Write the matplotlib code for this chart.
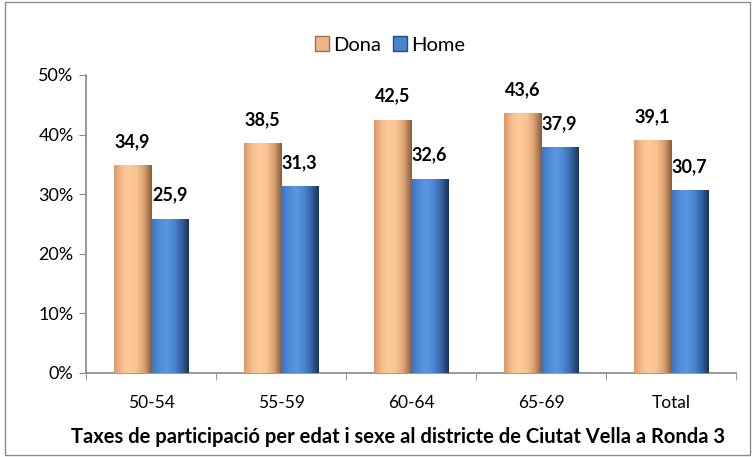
import numpy as np
import matplotlib
matplotlib.use('Agg')
import matplotlib.pyplot as plt
from matplotlib.colors import LinearSegmentedColormap
from matplotlib.patches import Rectangle, Patch
from matplotlib.ticker import FuncFormatter, FixedLocator

categories = ['50-54', '55-59', '60-64', '65-69', 'Total']
dona = [34.9, 38.5, 42.5, 43.6, 39.1]
home = [25.9, 31.3, 32.6, 37.9, 30.7]
series_names = ['Dona', 'Home']
title = 'Taxes de participació per edat i sexe al districte de Ciutat Vella a Ronda 3'

plt.rcParams['font.family'] = ['Lato', 'DejaVu Sans']

dona_cmap = LinearSegmentedColormap.from_list(
    'dona', ['#d9996a', '#f6bd8c', '#fccb9c', '#f8c190', '#d9a070', '#8a5c3a'])
home_cmap = LinearSegmentedColormap.from_list(
    'home', ['#3a72bd', '#4f8ad6', '#5b97e0', '#4c86d2', '#3566a8', '#1c355c'])

fig = plt.figure(figsize=(7.55, 4.57), dpi=100)
ax = fig.add_axes([0.114, 0.184, 0.861, 0.652])

x = np.arange(len(categories))
w = 0.285


def shaded_bars(xpos, vals, cmap, base):
    bars = ax.bar(xpos, vals, w, color=base, edgecolor='none', zorder=2)
    grad = np.linspace(0, 1, 64).reshape(1, -1)
    for b in bars:
        bx, bw, bh = b.get_x(), b.get_width(), b.get_height()
        im = ax.imshow(grad, cmap=cmap, extent=[bx, bx + bw, 0, bh],
                       aspect='auto', zorder=3, interpolation='bilinear')
        im.set_clip_path(b)
    return bars


b1 = shaded_bars(x - w / 2, dona, dona_cmap, '#f6bd8c')
b2 = shaded_bars(x + w / 2, home, home_cmap, '#4f8ad6')

for bars, vals in [(b1, dona), (b2, home)]:
    for b, v in zip(bars, vals):
        ax.annotate(f'{v:.1f}'.replace('.', ','),
                    (b.get_x() + b.get_width() / 2, b.get_height()),
                    xytext=(0, 17), textcoords='offset points',
                    ha='center', va='center', fontsize=13, fontweight='bold',
                    zorder=5)

ax.set_xlim(-0.5, len(categories) - 0.5)
ax.set_ylim(0, 50)
ax.yaxis.set_major_locator(FixedLocator([0, 10, 20, 30, 40, 50]))
ax.yaxis.set_major_formatter(FuncFormatter(lambda v, p: f'{v:.0f}%'))
ax.set_xticks(x)
ax.set_xticklabels(categories)
ax.set_xticks(np.arange(-0.5, len(categories)), minor=True)
ax.tick_params(axis='x', which='major', length=0, pad=16, labelsize=12.5)
ax.tick_params(axis='x', which='minor', length=5, color='#888888')
ax.tick_params(axis='y', length=5, color='#888888', labelsize=13, pad=4)

for s in ['top', 'right']:
    ax.spines[s].set_visible(False)
for s in ['left', 'bottom']:
    ax.spines[s].set_color('#888888')
    ax.spines[s].set_linewidth(1.2)

handles = [Patch(facecolor='#f0b584', edgecolor='#a07050'),
           Patch(facecolor='#4a84cf', edgecolor='#2a4f80')]
fig.legend(handles, series_names, loc='center', bbox_to_anchor=(390 / 755, 1 - 45 / 457),
           ncol=2, frameon=False, fontsize=14.5, handlelength=0.7, handleheight=0.7,
           handletextpad=0.2, columnspacing=0.6)

fig.text(398 / 755, 1 - 437 / 457, title, ha='center', va='center',
         fontsize=14.5, fontweight='bold')

fig.patches.append(Rectangle((0.007, 0.005), 0.986, 0.99, transform=fig.transFigure,
                             fill=False, edgecolor='#8c8c8c', linewidth=1))

fig.savefig('out.png', dpi=100)
